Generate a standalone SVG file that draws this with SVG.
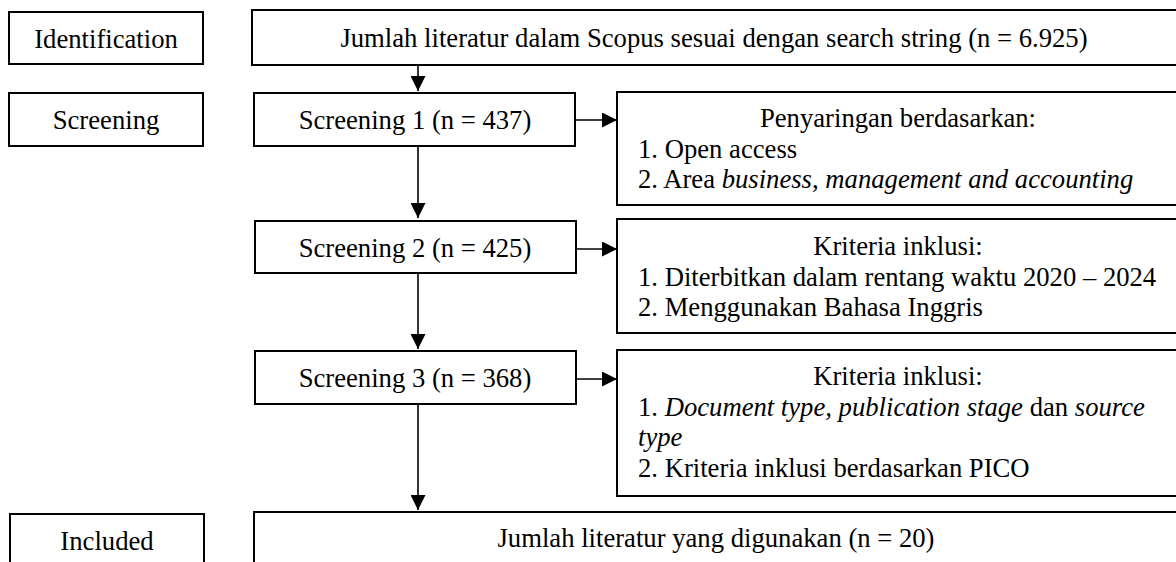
<svg xmlns="http://www.w3.org/2000/svg" width="1176" height="562" viewBox="0 0 1176 562">
  <defs>
    <marker id="arrow" viewBox="0 0 10 10" refX="10" refY="5" markerWidth="15" markerHeight="15" markerUnits="userSpaceOnUse" orient="auto">
      <path d="M0,0 L10,5 L0,10 Z" fill="#000"/>
    </marker>
    <style>
      .box { fill: #ffffff; stroke: #000000; stroke-width: 2; }
      .t { font-family: "Liberation Serif", "Times New Roman", serif; font-size: 26.67px; fill: #000000; }
      .c { text-anchor: middle; }
      .i { font-style: italic; }
      .con { stroke: #000000; stroke-width: 1.6; fill: none; marker-end: url(#arrow); }
    </style>
  </defs>
  <rect width="1176" height="562" fill="#ffffff"/>

  <g id="stage-identification">
    <rect class="box" x="9" y="12" width="194" height="52"/>
    <text class="t c" x="106" y="48">Identification</text>
  </g>
  <g id="stage-screening">
    <rect class="box" x="9" y="93" width="194" height="53"/>
    <text class="t c" x="106" y="129">Screening</text>
  </g>
  <g id="stage-included">
    <rect class="box" x="10" y="514" width="194" height="70"/>
    <text class="t c" x="107" y="550">Included</text>
  </g>

  <g id="node-scopus">
    <rect class="box" x="252" y="10" width="930" height="55"/>
    <text class="t c" x="714" y="47">Jumlah literatur dalam Scopus sesuai dengan search string (n = 6.925)</text>
  </g>
  <g id="node-screening1">
    <rect class="box" x="254" y="93" width="321" height="53"/>
    <text class="t c" x="415" y="129">Screening 1 (n = 437)</text>
  </g>
  <g id="node-screening2">
    <rect class="box" x="255" y="221" width="321" height="52"/>
    <text class="t c" x="415" y="257">Screening 2 (n = 425)</text>
  </g>
  <g id="node-screening3">
    <rect class="box" x="255" y="351" width="321" height="53"/>
    <text class="t c" x="415" y="387">Screening 3 (n = 368)</text>
  </g>
  <g id="node-final">
    <rect class="box" x="254" y="512" width="930" height="70"/>
    <text class="t c" x="716" y="547">Jumlah literatur yang digunakan (n = 20)</text>
  </g>

  <g id="node-penyaringan">
    <rect class="box" x="617" y="92" width="565" height="113"/>
    <text class="t c" x="898" y="127">Penyaringan berdasarkan:</text>
    <text class="t" x="638" y="157.5">1. Open access</text>
    <text class="t" x="638" y="188">2. Area <tspan class="i">business</tspan>, <tspan class="i">management and accounting</tspan></text>
  </g>
  <g id="node-kriteria1">
    <rect class="box" x="617" y="219" width="565" height="114"/>
    <text class="t c" x="898" y="255">Kriteria inklusi:</text>
    <text class="t" x="638" y="285.5">1. Diterbitkan dalam rentang waktu 2020 – 2024</text>
    <text class="t" x="638" y="316">2. Menggunakan Bahasa Inggris</text>
  </g>
  <g id="node-kriteria2">
    <rect class="box" x="617" y="350" width="565" height="146"/>
    <text class="t c" x="898" y="385">Kriteria inklusi:</text>
    <text class="t" x="638" y="415.5">1. <tspan class="i">Document type, publication stage</tspan> dan <tspan class="i">source</tspan></text>
    <text class="t i" x="638" y="446">type</text>
    <text class="t" x="638" y="477">2. Kriteria inklusi berdasarkan PICO</text>
  </g>

  <g id="connectors">
    <line class="con" x1="418" y1="65" x2="418" y2="91"/>
    <line class="con" x1="418" y1="146" x2="418" y2="218"/>
    <line class="con" x1="418" y1="273" x2="418" y2="349"/>
    <line class="con" x1="418" y1="404" x2="418" y2="510"/>
    <line class="con" x1="575" y1="120" x2="617" y2="120"/>
    <line class="con" x1="576" y1="249" x2="617" y2="249"/>
    <line class="con" x1="576" y1="379" x2="617" y2="379"/>
  </g>
</svg>
